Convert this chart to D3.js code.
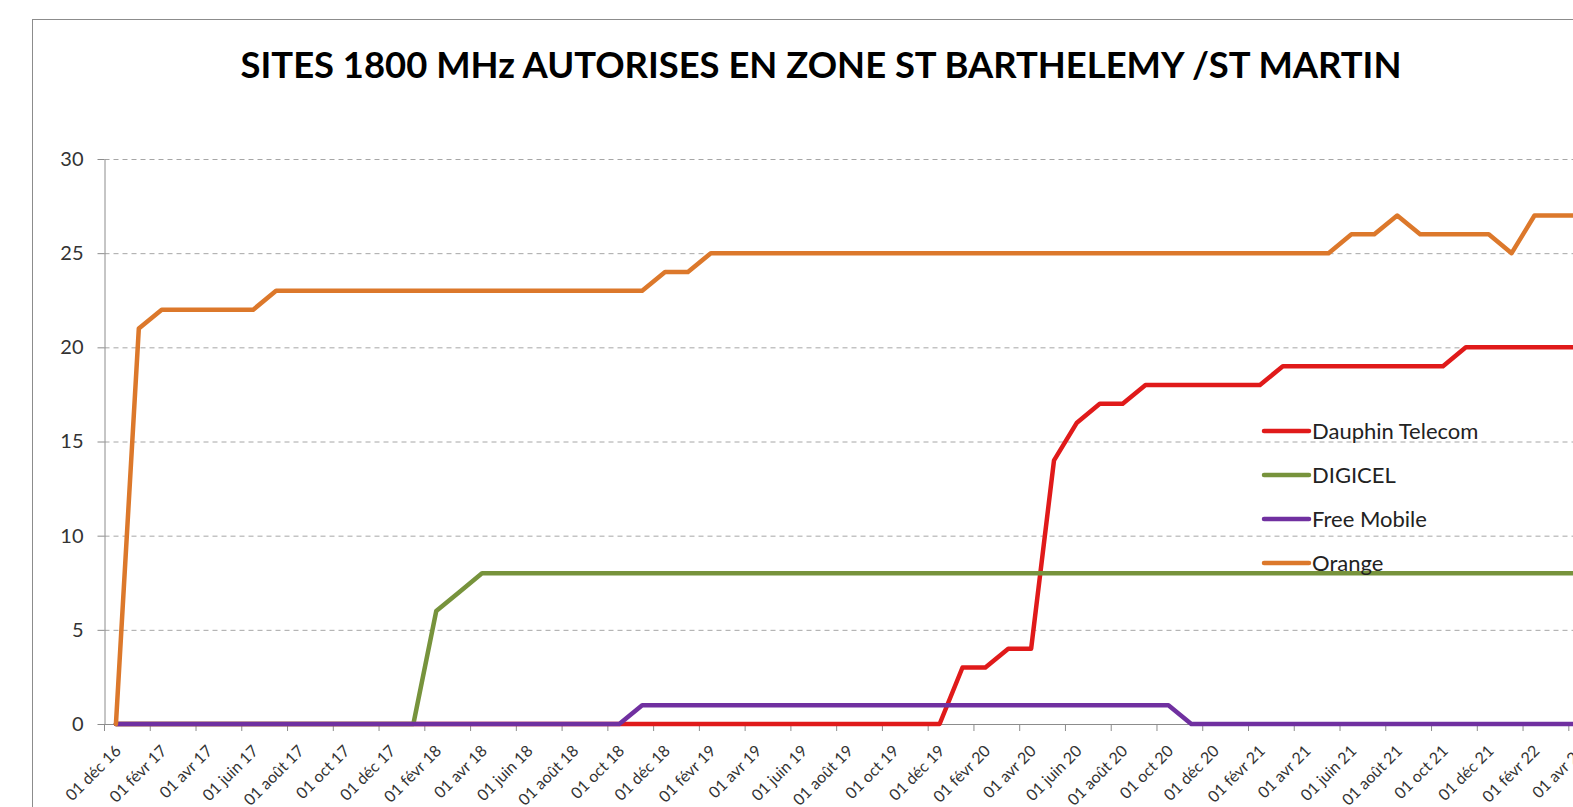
<!DOCTYPE html>
<html>
<head>
<meta charset="utf-8">
<script src="https://cdn.jsdelivr.net/npm/d3@7"></script>
<style>
  body { margin: 0; background: #fff; overflow: hidden; }
  svg { display: block; font-family: Lato, "Open Sans", sans-serif; }
</style>
</head>
<body>
<div id="chart"></div>
<script>
// Monthly categories, dec 2016 -> apr 2022
const months = [
  "2016-12",
  "2017-01", "2017-02", "2017-03", "2017-04", "2017-05", "2017-06",
  "2017-07", "2017-08", "2017-09", "2017-10", "2017-11", "2017-12",
  "2018-01", "2018-02", "2018-03", "2018-04", "2018-05", "2018-06",
  "2018-07", "2018-08", "2018-09", "2018-10", "2018-11", "2018-12",
  "2019-01", "2019-02", "2019-03", "2019-04", "2019-05", "2019-06",
  "2019-07", "2019-08", "2019-09", "2019-10", "2019-11", "2019-12",
  "2020-01", "2020-02", "2020-03", "2020-04", "2020-05", "2020-06",
  "2020-07", "2020-08", "2020-09", "2020-10", "2020-11", "2020-12",
  "2021-01", "2021-02", "2021-03", "2021-04", "2021-05", "2021-06",
  "2021-07", "2021-08", "2021-09", "2021-10", "2021-11", "2021-12",
  "2022-01", "2022-02", "2022-03", "2022-04",
];

// One label every two months (axis major unit)
const tickLabels = [
  "01 déc 16",
  "01 févr 17", "01 avr 17", "01 juin 17", "01 août 17", "01 oct 17", "01 déc 17",
  "01 févr 18", "01 avr 18", "01 juin 18", "01 août 18", "01 oct 18", "01 déc 18",
  "01 févr 19", "01 avr 19", "01 juin 19", "01 août 19", "01 oct 19", "01 déc 19",
  "01 févr 20", "01 avr 20", "01 juin 20", "01 août 20", "01 oct 20", "01 déc 20",
  "01 févr 21", "01 avr 21", "01 juin 21", "01 août 21", "01 oct 21", "01 déc 21",
  "01 févr 22", "01 avr 22",
];

const yTicks = [0, 5, 10, 15, 20, 25, 30];

const dauphin = [
  0, 0, 0, 0, 0, 0, 0, 0, 0, 0, 0, 0, 0,
  0, 0, 0, 0, 0, 0, 0, 0, 0, 0, 0, 0,
  0, 0, 0, 0, 0, 0, 0, 0, 0, 0, 0, 0,
  3, 3, 4, 4, 14, 16, 17, 17, 18, 18, 18, 18,
  18, 18, 19, 19, 19, 19, 19, 19, 19, 19, 20, 20,
  20, 20, 20, 20,
];

const digicel = [
  0, 0, 0, 0, 0, 0, 0, 0, 0, 0, 0, 0, 0,
  0, 6, 7, 8, 8, 8, 8, 8, 8, 8, 8, 8,
  8, 8, 8, 8, 8, 8, 8, 8, 8, 8, 8, 8,
  8, 8, 8, 8, 8, 8, 8, 8, 8, 8, 8, 8,
  8, 8, 8, 8, 8, 8, 8, 8, 8, 8, 8, 8,
  8, 8, 8, 8,
];

const freeMobile = [
  0, 0, 0, 0, 0, 0, 0, 0, 0, 0, 0, 0, 0,
  0, 0, 0, 0, 0, 0, 0, 0, 0, 0, 1, 1,
  1, 1, 1, 1, 1, 1, 1, 1, 1, 1, 1, 1,
  1, 1, 1, 1, 1, 1, 1, 1, 1, 1, 0, 0,
  0, 0, 0, 0, 0, 0, 0, 0, 0, 0, 0, 0,
  0, 0, 0, 0,
];

const orange = [
  0, 21, 22, 22, 22, 22, 22, 23, 23, 23, 23, 23, 23,
  23, 23, 23, 23, 23, 23, 23, 23, 23, 23, 23, 24,
  24, 25, 25, 25, 25, 25, 25, 25, 25, 25, 25, 25,
  25, 25, 25, 25, 25, 25, 25, 25, 25, 25, 25, 25,
  25, 25, 25, 25, 25, 26, 26, 27, 26, 26, 26, 26,
  25, 27, 27, 27,
];

const seriesNames = ["Dauphin Telecom", "DIGICEL", "Free Mobile", "Orange"];
const seriesValues = [dauphin, digicel, freeMobile, orange];
const colors = ["#e01a1a", "#77933c", "#7030a0", "#dc782b"];

// ------------------------------------------------------------------------------------------

const width = 1573;
const height = 807;
const plot = { left: 104.5, top: 159, bottom: 724, step: 22.88 };

const svg = d3
  .select("#chart")
  .append("svg")
  .attr("width", width)
  .attr("height", height);

// chart frame (runs off the right and bottom of the picture)
svg
  .append("rect")
  .attr("x", 32.5)
  .attr("y", 19.5)
  .attr("width", 1576)
  .attr("height", 900)
  .attr("fill", "#fff")
  .attr("stroke", "#8c8c8c");

svg
  .append("text")
  .attr("x", 821)
  .attr("y", 78)
  .attr("text-anchor", "middle")
  .style("font-size", "36.4px")
  .style("font-weight", "bold")
  .style("fill", "#000")
  .text("SITES 1800 MHz AUTORISES EN ZONE ST BARTHELEMY /ST MARTIN");

const x = d3
  .scaleBand()
  .domain(months)
  .range([plot.left, plot.left + months.length * plot.step])
  .padding(0);

const y = d3.scaleLinear().domain([0, 30]).range([plot.bottom, plot.top]);

const plotRight = x.range()[1];
const half = x.bandwidth() / 2;

// ------------------------------------------------------------------------------------------
// gridlines

svg
  .append("g")
  .attr("class", "grid")
  .attr("transform", "translate(" + plot.left + ",0)")
  .call(
    d3
      .axisLeft(y)
      .tickValues(yTicks.filter((d) => d > 0))
      .tickSize(-(plotRight - plot.left))
      .tickFormat("")
  )
  .call((g) => g.select(".domain").remove())
  .call((g) =>
    g
      .selectAll("line")
      .attr("stroke", "#a6a6a6")
      .attr("stroke-dasharray", "5,4")
  );

// y axis
svg
  .append("g")
  .attr("transform", "translate(" + plot.left + ",0)")
  .call(
    d3
      .axisLeft(y)
      .tickValues(yTicks)
      .tickSize(7)
      .tickSizeOuter(0)
      .tickPadding(14)
  )
  .call((g) => g.select(".domain").attr("stroke", "#8c8c8c"))
  .call((g) => g.selectAll(".tick line").attr("stroke", "#8c8c8c"))
  .call((g) =>
    g
      .selectAll(".tick text")
      .style("font-size", "20px")
      .style("font-family", "Lato, sans-serif")
      .attr("fill", "#333")
  );

// x axis: ticks at the start of every other month
const xAxisG = svg
  .append("g")
  .attr("transform", "translate(" + -half + "," + plot.bottom + ")")
  .call(
    d3
      .axisBottom(x)
      .tickValues(months.filter((d, i) => i % 2 === 0))
      .tickSize(7)
      .tickSizeOuter(0)
      .tickFormat((d, i) => tickLabels[i])
  );

xAxisG.select(".domain").remove();
xAxisG.selectAll(".tick line").attr("stroke", "#8c8c8c");
xAxisG
  .selectAll(".tick text")
  .attr("x", null)
  .attr("y", null)
  .attr("dy", null)
  .attr("text-anchor", "end")
  .attr("transform", "translate(" + (half + 6) + ",28) rotate(-45)")
  .style("font-size", "16px")
  .style("font-family", "Lato, sans-serif")
  .attr("fill", "#333");

svg
  .append("line")
  .attr("x1", plot.left)
  .attr("x2", plotRight)
  .attr("y1", plot.bottom + 0.5)
  .attr("y2", plot.bottom + 0.5)
  .attr("stroke", "#8c8c8c");

// ------------------------------------------------------------------------------------------
// series lines

const line = d3
  .line()
  .x((d, i) => x(months[i]) + half)
  .y((d) => y(d));

svg
  .append("g")
  .selectAll("path")
  .data(seriesValues)
  .enter()
  .append("path")
  .attr("d", line)
  .attr("fill", "none")
  .attr("stroke", (d, i) => colors[i])
  .attr("stroke-width", 4.5)
  .attr("stroke-linejoin", "round")
  .attr("stroke-linecap", "round");

// ------------------------------------------------------------------------------------------
// legend

const legend = svg
  .append("g")
  .selectAll("g")
  .data(seriesNames)
  .enter()
  .append("g")
  .attr("transform", (d, i) => "translate(1264," + (431 + i * 44) + ")");

legend
  .append("line")
  .attr("x1", 0)
  .attr("x2", 45)
  .attr("stroke", (d, i) => colors[i])
  .attr("stroke-width", 4.5)
  .attr("stroke-linecap", "round");

legend
  .append("text")
  .attr("x", 48)
  .attr("dy", "0.35em")
  .style("font-size", "22px")
  .style("fill", "#222")
  .text((d) => d);
</script>
</body>
</html>
